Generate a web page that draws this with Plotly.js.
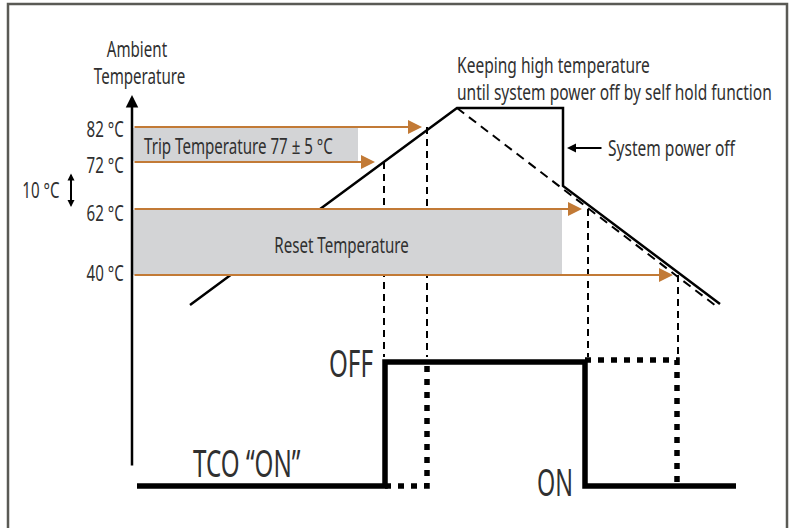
<!DOCTYPE html>
<html>
<head>
<meta charset="utf-8">
<script src="https://cdn.plot.ly/plotly-3.0.1.min.js"></script>
<style>
  html, body { margin: 0; padding: 0; background: #fff; }
  #chart { width: 793px; height: 528px; }
</style>
</head>
<body>
<div id="chart"></div>
<script>
// ---- Diagram data (schematic units: x = time, y = schematic height, top = 0) ----
const tempLabels   = ['82 °C', '72 °C', '62 °C', '40 °C'];
const levelY       = [127, 162, 209, 275];      // schematic height of each temperature level
const levelTipX    = [422, 375, 582, 673];      // where each level arrow meets the curve

const tripBoxX  = [133, 358], tripBoxY  = [128, 161];
const resetBoxX = [133, 562], resetBoxY = [210, 275];

// ambient temperature (solid, with self-hold) and natural cooldown (dashed)
const tempCurveX = [190, 457, 563, 563, 720];
const tempCurveY = [305, 108, 108, 186, 304];
const coolX = [457, 716];
const coolY = [108, 306];

// switching moments (vertical guides)
const guideX    = [384, 427, 588, 678];
const guideTopY = [162, 127, 209, 275];
const guideEndY = 357;

// TCO state (OFF high / ON low)
const tcoX = [137, 385, 385, 585, 585, 736];
const tcoY = [486, 486, 362, 362, 486, 486];
// alternative (without self hold) state, dotted
const altX = [385, 427, 427, null, 585, 677, 677];
const altY = [486, 486, 362, null, 360, 360, 486];

const ORANGE = '#c27a36';
const TXT = '#303030';
const FONT = '"Noto Sans", "Open Sans", sans-serif';

// ---- traces ----
const traces = [];
const gx = [], gy = [];
guideX.forEach((x, i) => { gx.push(x, x, null); gy.push(guideTopY[i], guideEndY, null); });
traces.push({x: gx, y: gy, mode: 'lines', line: {color: '#000', width: 2, dash: '7px,5px'}, hoverinfo: 'skip'});
traces.push({x: coolX, y: coolY, mode: 'lines', line: {color: '#000', width: 2, dash: '9px,6px'}, hoverinfo: 'skip'});
traces.push({x: tempCurveX, y: tempCurveY, mode: 'lines', line: {color: '#000', width: 2.5}, hoverinfo: 'skip'});
traces.push({x: altX, y: altY, mode: 'lines', line: {color: '#000', width: 5.5, dash: '6px,7px'}, hoverinfo: 'skip'});
traces.push({x: tcoX, y: tcoY, mode: 'lines', line: {color: '#000', width: 5.5}, hoverinfo: 'skip'});

// ---- shapes ----
const shapes = [
  {type: 'rect', xref: 'x', yref: 'y', x0: tripBoxX[0], x1: tripBoxX[1], y0: tripBoxY[0], y1: tripBoxY[1],
   fillcolor: '#d3d4d6', line: {width: 0}, layer: 'above'},
  {type: 'rect', xref: 'x', yref: 'y', x0: resetBoxX[0], x1: resetBoxX[1], y0: resetBoxY[0], y1: resetBoxY[1],
   fillcolor: '#d3d4d6', line: {width: 0}, layer: 'above'},
  {type: 'rect', xref: 'x', yref: 'y', x0: 8, x1: 787, y0: 4, y1: 540,
   fillcolor: 'rgba(0,0,0,0)', line: {color: '#5a5a55', width: 2.5}}
];

// ---- annotations ----
const ann = [];
const squeeze = [];   // horizontal condensing per annotation (condensed typeface look)
const anchors = [];
function txt(text, x, y, size, xanchor, k) {
  ann.push({text: text, x: x, y: y, xref: 'x', yref: 'y', showarrow: false,
            xanchor: xanchor || 'center', yanchor: 'middle', borderpad: 0,
            font: {family: FONT, size: size, color: TXT}});
  squeeze[ann.length - 1] = k || 0.72;
  anchors[ann.length - 1] = xanchor || 'center';
}
function arrow(x0, y0, x1, y1, color, width, size, side) {
  ann.push({text: '', x: x1, y: y1, ax: x0, ay: y0, xref: 'x', yref: 'y', axref: 'x', ayref: 'y',
            showarrow: true, arrowhead: 2, arrowsize: size, arrowwidth: width, arrowcolor: color,
            arrowside: side || 'end', standoff: 0, startstandoff: 0});
}
levelY.forEach((y, i) => arrow(133, y, levelTipX[i], y, ORANGE, 2, 1.4));
const labelY = [129, 165, 213, 273];
tempLabels.forEach((t, i) => txt(t, 125, labelY[i], 21, 'right'));
arrow(132, 467, 132, 95, '#000', 2.5, 1.0);
arrow(71, 172, 71, 207, '#000', 2, 0.7, 'end+start');
txt('10 °C', 41, 190, 21);
txt('Ambient', 137, 49, 21);
txt('Temperature', 139, 76, 21);
txt('Trip Temperature 77 ± 5 °C', 143, 146, 21, 'left');
txt('Reset Temperature', 341, 245, 21);
txt('Keeping high temperature', 456, 65, 21, 'left', 0.74);
txt('until system power off by self hold function', 456, 92, 21, 'left', 0.74);
arrow(603, 148, 567, 148, '#000', 2, 0.9);
txt('System power off', 607, 148, 21, 'left', 0.74);
txt('OFF', 374, 361, 39, 'right', 0.62);
txt('ON', 574, 480, 39, 'right', 0.6);
txt('TCO “ON”', 246, 461, 39, 'center', 0.62);

const layout = {
  width: 793, height: 528,
  margin: {l: 0, r: 0, t: 0, b: 0},
  paper_bgcolor: '#fff', plot_bgcolor: '#fff',
  showlegend: false,
  xaxis: {range: [0, 793], visible: false, fixedrange: true},
  yaxis: {range: [528, 0], visible: false, fixedrange: true},
  shapes: shapes,
  annotations: ann
};
Plotly.newPlot('chart', traces, layout, {displayModeBar: false, staticPlot: true}).then(() => {
  document.querySelectorAll('g.annotation').forEach(g => {
    const i = +g.getAttribute('data-index');
    const k = squeeze[i];
    if (!k) return;
    const t = g.querySelector('text.annotation-text');
    if (!t) return;
    const bb = t.getBBox();
    const a = anchors[i];
    const p = a === 'left' ? bb.x : (a === 'right' ? bb.x + bb.width : bb.x + bb.width / 2);
    t.setAttribute('transform', 'translate(' + p + ',0) scale(' + k + ',1) translate(' + (-p) + ',0)');
  });
});
</script>
</body>
</html>
